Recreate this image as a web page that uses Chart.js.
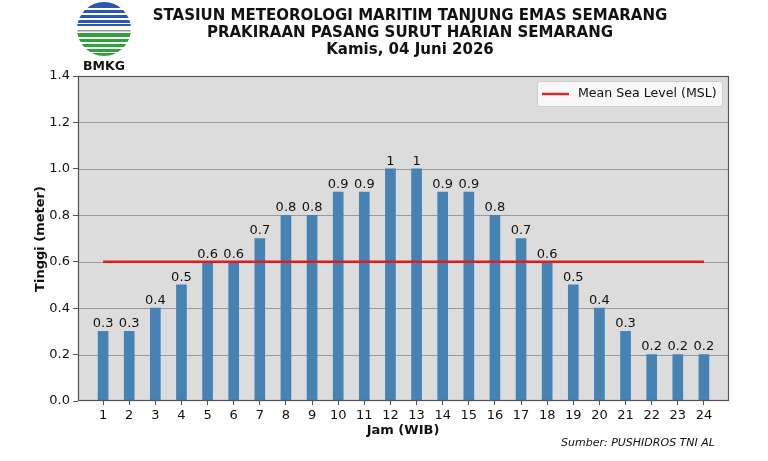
<!DOCTYPE html>
<html>
<head>
<meta charset="utf-8">
<script src="https://cdn.jsdelivr.net/npm/chart.js@4.4.0/dist/chart.umd.min.js"></script>
<style>
  html, body { margin: 0; padding: 0; background: #fff; }
  #wrap { width: 768px; height: 461px; }
</style>
</head>
<body>
<div id="wrap"><canvas id="myChart" width="768" height="461"></canvas></div>
<script>
const jam = [1, 2, 3, 4, 5, 6, 7, 8, 9, 10, 11, 12, 13, 14, 15, 16, 17, 18, 19, 20, 21, 22, 23, 24];
const tinggi = [0.3, 0.3, 0.4, 0.5, 0.6, 0.6, 0.7, 0.8, 0.8, 0.9, 0.9, 1, 1, 0.9, 0.9, 0.8, 0.7, 0.6, 0.5, 0.4, 0.3, 0.2, 0.2, 0.2];
const msl = 0.6;
const judul = [
    'STASIUN METEOROLOGI MARITIM TANJUNG EMAS SEMARANG',
    'PRAKIRAAN PASANG SURUT HARIAN SEMARANG',
    'Kamis, 04 Juni 2026'
];
const sumber = 'Sumber: PUSHIDROS TNI AL';
const font = '"DejaVu Sans", sans-serif';

// background of plot area, logo, titles, labels
const decor = {
    id: 'decor',
    beforeDatasetsDraw(chart) {
        const { ctx, chartArea: a } = chart;
        ctx.save();
        ctx.fillStyle = '#dcdcdc';
        ctx.fillRect(a.left, a.top, a.right - a.left, a.bottom - a.top);
        // horizontal grid
        const y = chart.scales.y;
        ctx.strokeStyle = '#9a9a9a';
        ctx.lineWidth = 1;
        for (let v = 0.2; v < 1.4; v += 0.2) {
            const py = Math.round(y.getPixelForValue(v)) + 0.5;
            ctx.beginPath();
            ctx.moveTo(a.left, py);
            ctx.lineTo(a.right, py);
            ctx.stroke();
        }
        ctx.restore();
    },
    afterDatasetsDraw(chart) {
        const { ctx, chartArea: a } = chart;
        ctx.save();
        // value labels
        const meta = chart.getDatasetMeta(0);
        ctx.fillStyle = '#111';
        ctx.font = '13px ' + font;
        ctx.textAlign = 'center';
        ctx.textBaseline = 'bottom';
        meta.data.forEach((bar, i) => {
            ctx.fillText(String(tinggi[i]), bar.x, bar.y - 1);
        });
        // frame
        ctx.strokeStyle = '#555';
        ctx.lineWidth = 1.2;
        ctx.strokeRect(a.left + 0.5, a.top + 0.5, a.right - a.left - 1, a.bottom - a.top - 1);
        // legend
        const lx = 537, ly = 81, lw = 185, lh = 25;
        ctx.fillStyle = 'rgba(255,255,255,0.8)';
        ctx.strokeStyle = '#cccccc';
        ctx.lineWidth = 1;
        ctx.beginPath();
        ctx.roundRect(lx + 0.5, ly + 0.5, lw, lh, 3);
        ctx.fill();
        ctx.stroke();
        ctx.strokeStyle = '#d62728';
        ctx.lineWidth = 2.5;
        ctx.beginPath();
        ctx.moveTo(lx + 5, ly + 13);
        ctx.lineTo(lx + 32, ly + 13);
        ctx.stroke();
        ctx.fillStyle = '#111';
        ctx.font = '12.6px ' + font;
        ctx.textAlign = 'left';
        ctx.textBaseline = 'middle';
        ctx.fillText('Mean Sea Level (MSL)', lx + 41, ly + 13);
        ctx.restore();
    },
    afterDraw(chart) {
        const { ctx } = chart;
        ctx.save();
        // titles
        ctx.fillStyle = '#111';
        ctx.textAlign = 'center';
        ctx.textBaseline = 'middle';
        ctx.font = 'bold 15px ' + font;
        judul.forEach((t, i) => ctx.fillText(t, 410, 16 + i * 17));
        // axis titles
        ctx.font = 'bold 13px ' + font;
        ctx.fillText('Jam (WIB)', 403, 431);
        ctx.save();
        ctx.translate(41, 239);
        ctx.rotate(-Math.PI / 2);
        ctx.fillText('Tinggi (meter)', 0, 0);
        ctx.restore();
        ctx.font = 'italic 11px ' + font;
        ctx.fillText(sumber, 638, 443);
        // logo
        const cx = 104, cy = 29, r = 27;
        ctx.save();
        ctx.beginPath();
        ctx.arc(cx, cy, r, 0, Math.PI * 2);
        ctx.clip();
        ctx.fillStyle = '#fff';
        ctx.fillRect(cx - r, cy - r, 2 * r, 2 * r);
        ctx.fillStyle = '#2b55b3';
        [[2, 6], [10, 3], [15, 3], [20, 3], [24, 2]].forEach(([yy, h]) => ctx.fillRect(cx - r, yy, 2 * r, h));
        ctx.fillStyle = '#999';
        ctx.fillRect(cx - r, 30, 2 * r, 1.5);
        ctx.fillStyle = '#2ea33a';
        [[33, 4], [39, 3], [44, 3], [49, 3], [53, 4]].forEach(([yy, h]) => ctx.fillRect(cx - r, yy, 2 * r, h));
        ctx.restore();
        ctx.fillStyle = '#111';
        ctx.font = 'bold 12.5px ' + font;
        ctx.fillText('BMKG', 104, 67);
        ctx.restore();
    }
};

const ctx = document.getElementById('myChart').getContext('2d');
const myChart = new Chart(ctx, {
    type: 'bar',
    data: {
        datasets: [{
            type: 'bar',
            data: jam.map((j, i) => ({ x: j, y: tinggi[i] })),
            backgroundColor: '#4682b4',
            barThickness: 10,
            order: 2
        }, {
            type: 'line',
            label: 'Mean Sea Level (MSL)',
            data: [{ x: jam[0], y: msl }, { x: jam[jam.length - 1], y: msl }],
            borderColor: '#e31a1c',
            borderWidth: 2.5,
            pointRadius: 0,
            order: 1
        }]
    },
    options: {
        responsive: false,
        animation: false,
        layout: { padding: { left: 0, top: 76, right: 39, bottom: 30 } },
        plugins: { legend: { display: false }, tooltip: { enabled: false } },
        scales: {
            x: {
                type: 'linear',
                min: 0.04,
                max: 24.96,
                offset: false,
                afterFit(s) { s.height = 30; },
                afterBuildTicks(s) { s.ticks = jam.map(v => ({ value: v })); },
                grid: { offset: false, drawOnChartArea: false, tickLength: 4, color: '#555' },
                border: { display: false },
                ticks: { color: '#111', font: { family: font, size: 13 }, padding: 3, autoSkip: false, maxRotation: 0 }
            },
            y: {
                min: 0,
                max: 1.4,
                afterFit(s) { s.width = 78; },
                grid: { drawOnChartArea: false, tickLength: 5, color: '#555' },
                border: { display: false },
                ticks: {
                    stepSize: 0.2,
                    color: '#111',
                    font: { family: font, size: 13 },
                    padding: 3,
                    callback: v => v.toFixed(1)
                }
            }
        }
    },
    plugins: [decor]
});
</script>
</body>
</html>
